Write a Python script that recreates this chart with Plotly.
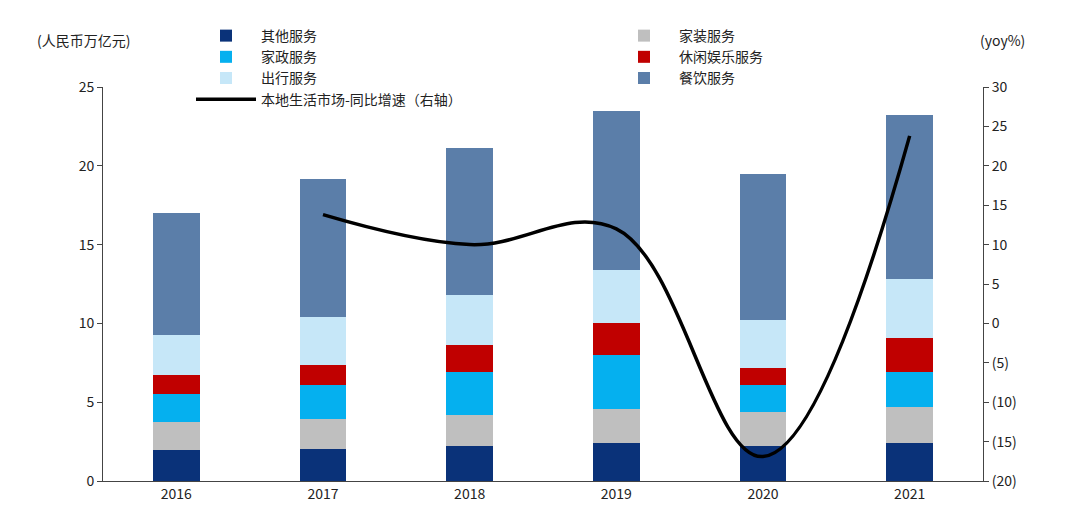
import plotly.graph_objects as go

years = ["2016", "2017", "2018", "2019", "2020", "2021"]
other = [1.97, 2.03, 2.2, 2.4, 2.2, 2.4]
deco = [1.79, 1.91, 2.0, 2.2, 2.2, 2.3]
domestic = [1.78, 2.16, 2.7, 3.4, 1.7, 2.2]
leisure = [1.16, 1.29, 1.7, 2.0, 1.1, 2.2]
travel = [2.54, 3.01, 3.2, 3.4, 3.0, 3.7]
food = [7.76, 8.75, 9.3, 10.1, 9.3, 10.4]
yoy_years = ["2017", "2018", "2019", "2020", "2021"]
yoy = [13.8, 10.0, 12.0, -16.9, 23.8]

right_ticks = list(range(-20, 35, 5))
right_labels = [f"({-v})" if v < 0 else str(v) for v in right_ticks]

fig = go.Figure()
# legend = left column, legend2 = right column
series = [("其他服务", other, "#0a3279", "legend"), ("家装服务", deco, "#bfbfbf", "legend2"),
          ("家政服务", domestic, "#05b0ef", "legend"), ("休闲娱乐服务", leisure, "#c00000", "legend2"),
          ("出行服务", travel, "#c6e7f8", "legend"), ("餐饮服务", food, "#5b7ea9", "legend2")]
for name, vals, color, lg in series:
    fig.add_trace(go.Bar(x=years, y=vals, name=name, marker_color=color,
                         marker_line_width=0, width=0.32, legend=lg))
fig.add_trace(go.Scatter(x=yoy_years, y=yoy, name="本地生活市场-同比增速（右轴）",
                         yaxis="y2", mode="lines", legend="legend",
                         line=dict(color="black", width=3.5, shape="spline", smoothing=1.1)))

leg = dict(xanchor="left", yanchor="top", traceorder="normal", font=dict(size=14),
           bgcolor="rgba(0,0,0,0)", tracegroupgap=0, itemwidth=60)
fig.update_layout(
    barmode="stack", width=1080, height=513, plot_bgcolor="white", paper_bgcolor="white",
    font=dict(family="Noto Sans CJK SC", size=14, color="#222"),
    margin=dict(l=95, r=105, t=67, b=40),
    legend=dict(x=0.10, y=1.17, **leg),
    legend2=dict(x=0.575, y=1.17, **leg),
    xaxis=dict(showline=True, linecolor="#444", ticks="", tickfont=dict(size=14)),
    yaxis=dict(range=[0, 25], dtick=5, showgrid=False, showline=True, linecolor="#444",
               ticks="outside", ticklen=5, zeroline=False),
    yaxis2=dict(range=[-20, 30], overlaying="y", side="right", tickvals=right_ticks,
                ticktext=right_labels, showgrid=False, showline=True, linecolor="#444",
                ticks="outside", ticklen=5, zeroline=False),
    annotations=[
        dict(text="(人民币万亿元)", x=0.0, y=1.15, xref="paper", yref="paper",
             xanchor="center", yanchor="top", showarrow=False, font=dict(size=14), xshift=-20),
        dict(text="(yoy%)", x=1.0, y=1.15, xref="paper", yref="paper",
             xanchor="left", yanchor="top", showarrow=False, font=dict(size=14), xshift=-5),
    ],
)
fig.write_html("out.html")
